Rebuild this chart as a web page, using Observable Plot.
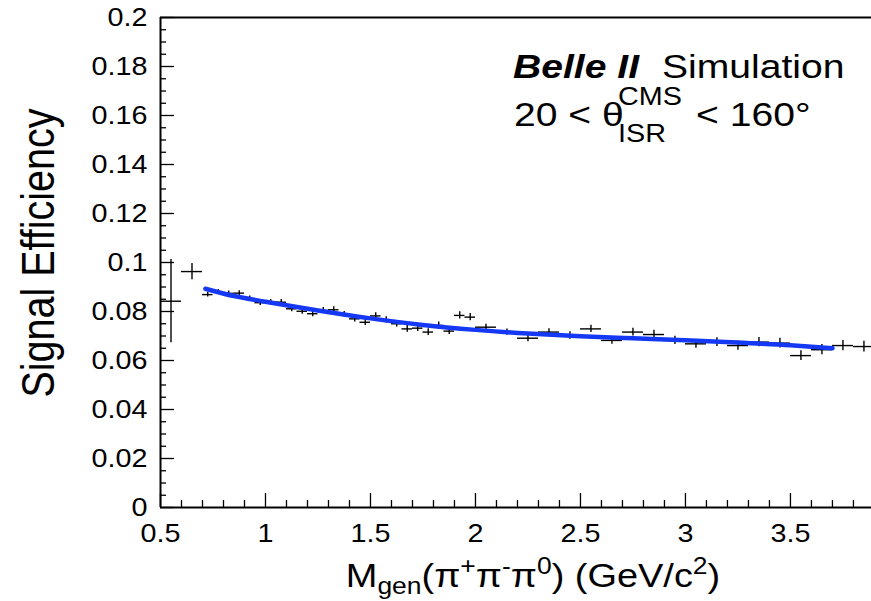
<!DOCTYPE html>
<html>
<head>
<meta charset="utf-8">
<script src="https://cdn.jsdelivr.net/npm/d3@7"></script>
<script src="https://cdn.jsdelivr.net/npm/@observablehq/plot@0.6"></script>
<style>
html, body { margin: 0; padding: 0; background: #fff; overflow: hidden; }
#chart svg { display: block; }
</style>
</head>
<body>
<div id="chart"></div>
<script>
// ---- data ----
const massCenter = [0.55, 0.65, 0.725, 0.775, 0.825, 0.875, 0.925, 0.975, 1.025, 1.075, 1.125, 1.175, 1.225, 1.275, 1.325, 1.375, 1.425, 1.475, 1.525, 1.575, 1.625, 1.675, 1.725, 1.775, 1.825, 1.875, 1.925, 1.975, 2.05, 2.15, 2.25, 2.35, 2.45, 2.55, 2.65, 2.75, 2.85, 2.95, 3.05, 3.15, 3.25, 3.35, 3.45, 3.55, 3.65, 3.75, 3.85];
const massHalfWidth = [0.05, 0.05, 0.025, 0.025, 0.025, 0.025, 0.025, 0.025, 0.025, 0.025, 0.025, 0.025, 0.025, 0.025, 0.025, 0.025, 0.025, 0.025, 0.025, 0.025, 0.025, 0.025, 0.025, 0.025, 0.025, 0.025, 0.025, 0.025, 0.05, 0.05, 0.05, 0.05, 0.05, 0.05, 0.05, 0.05, 0.05, 0.05, 0.05, 0.05, 0.05, 0.05, 0.05, 0.05, 0.05, 0.05, 0.05];
const efficiency = [0.0842, 0.0963, 0.0869, 0.0880, 0.0874, 0.0875, 0.0852, 0.0836, 0.0838, 0.0838, 0.0811, 0.0801, 0.0791, 0.0804, 0.0807, 0.0788, 0.0770, 0.0756, 0.0782, 0.0766, 0.0750, 0.0729, 0.0732, 0.0716, 0.0743, 0.0720, 0.0784, 0.0777, 0.0736, 0.0716, 0.0691, 0.0716, 0.0702, 0.0729, 0.0682, 0.0716, 0.0706, 0.0682, 0.0668, 0.0675, 0.0661, 0.0675, 0.0671, 0.0620, 0.0644, 0.0661, 0.0657];
const efficiencyError = [0.0170, 0.0033, 0.0010, 0.0010, 0.0010, 0.0010, 0.0011, 0.0011, 0.0011, 0.0011, 0.0012, 0.0012, 0.0012, 0.0012, 0.0012, 0.0012, 0.0013, 0.0013, 0.0013, 0.0013, 0.0013, 0.0014, 0.0014, 0.0014, 0.0014, 0.0014, 0.0015, 0.0015, 0.0012, 0.0013, 0.0014, 0.0014, 0.0015, 0.0015, 0.0016, 0.0016, 0.0017, 0.0017, 0.0018, 0.0018, 0.0019, 0.0019, 0.0020, 0.0020, 0.0021, 0.0021, 0.0022];
const fitMass = [0.714, 0.85, 1.0, 1.25, 1.5, 1.75, 2.0, 2.25, 2.5, 2.75, 3.0, 3.25, 3.5, 3.70];
const fitEfficiency = [0.0893, 0.0863, 0.0840, 0.0804, 0.0772, 0.0745, 0.0725, 0.0710, 0.0699, 0.0691, 0.0683, 0.0673, 0.0662, 0.0650];
const xMajorTicks = [0.5, 1, 1.5, 2, 2.5, 3, 3.5];
const xTickLabels = ["0.5", "1", "1.5", "2", "2.5", "3", "3.5"];
const xMinorTicks = [0.6, 0.7, 0.8, 0.9, 1.1, 1.2, 1.3, 1.4, 1.6, 1.7, 1.8, 1.9, 2.1, 2.2, 2.3, 2.4, 2.6, 2.7, 2.8, 2.9, 3.1, 3.2, 3.3, 3.4, 3.6, 3.7, 3.8];
const yMajorTicks = [0, 0.02, 0.04, 0.06, 0.08, 0.1, 0.12, 0.14, 0.16, 0.18, 0.2];
const yTickLabels = ["0", "0.02", "0.04", "0.06", "0.08", "0.1", "0.12", "0.14", "0.16", "0.18", "0.2"];
const yMinorTicks = [0.005, 0.01, 0.015, 0.025, 0.03, 0.035, 0.045, 0.05, 0.055, 0.065, 0.07, 0.075, 0.085, 0.09, 0.095, 0.105, 0.11, 0.115, 0.125, 0.13, 0.135, 0.145, 0.15, 0.155, 0.165, 0.17, 0.175, 0.185, 0.19, 0.195];
const xDomain = [0.5, 3.886];
const yDomain = [0, 0.2];

// ---- build tables ----
const points = massCenter.map((m, i) => ({
  m, m1: m - massHalfWidth[i], m2: m + massHalfWidth[i],
  e: efficiency[i], e1: efficiency[i] - efficiencyError[i], e2: efficiency[i] + efficiencyError[i]
}));
const fit = fitMass.map((m, i) => ({m, e: fitEfficiency[i]}));

const FONT = "'Liberation Sans', Arial, Helvetica, sans-serif";
const SX = 1.15; // horizontal text stretch seen in the reference

const W = 871, H = 601, ML = 160, MR = 0, MT = 17, MB = 94;
const innerW = W - ML - MR, innerH = H - MT - MB;
const MAJOR = 14, MINOR = 7;

const chart = Plot.plot({
  width: W,
  height: H,
  marginLeft: ML,
  marginRight: MR,
  marginTop: MT,
  marginBottom: MB,
  style: {fontFamily: FONT, background: "#fff", color: "#000"},
  x: {domain: xDomain, axis: null},
  y: {domain: yDomain, axis: null},
  marks: [
    Plot.ruleX(points, {x: "m", y1: "e1", y2: "e2", stroke: "#000", strokeWidth: 1.4, clip: true}),
    Plot.ruleY(points, {y: "e", x1: "m1", x2: "m2", stroke: "#000", strokeWidth: 1.4, clip: true}),
    Plot.line(fit, {x: "m", y: "e", stroke: "#1438f4", strokeWidth: 4.5, curve: "monotone-x"}),
    // inward ticks (ROOT style)
    Plot.tickX(xMinorTicks, {x: d => d, insetTop: innerH - MINOR, stroke: "#000", strokeWidth: 1.3}),
    Plot.tickX(xMajorTicks, {x: d => d, insetTop: innerH - MAJOR, stroke: "#000", strokeWidth: 1.3}),
    Plot.tickY(yMinorTicks, {y: d => d, insetRight: innerW - MINOR + 1, stroke: "#000", strokeWidth: 1.3}),
    Plot.tickY(yMajorTicks, {y: d => d, insetRight: innerW - MAJOR, stroke: "#000", strokeWidth: 1.3}),
    // tick labels
    Plot.axisX(xMajorTicks, {tickSize: 0, tickPadding: 17, fontSize: 25, label: null,
      tickFormat: d => xTickLabels[xMajorTicks.indexOf(d)]}),
    Plot.axisY(yMajorTicks, {tickSize: 0, tickPadding: 13, fontSize: 25, label: null,
      tickFormat: d => yTickLabels[yMajorTicks.indexOf(d)]}),
    // frame: left, bottom, top
    Plot.ruleX([xDomain[0]], {stroke: "#000", strokeWidth: 2}),
    Plot.ruleY([yDomain[0], yDomain[1]], {stroke: "#000", strokeWidth: 2})
  ]
});
document.getElementById("chart").appendChild(chart);

const svg = d3.select(chart);
// stretch tick labels horizontally to match the reference
svg.selectAll("g[aria-label$='tick label'] text").each(function() {
  const t = this.getAttribute("transform");
  if (t) this.setAttribute("transform", t + ` scale(${SX},1)`);
});

// helper for rich text
function richText(x, y, segs, opts = {}) {
  const t = svg.append("text")
    .attr("transform", `translate(${x},${y}) scale(${SX},1)`)
    .attr("font-family", FONT)
    .attr("fill", "#000")
    .attr("text-anchor", opts.anchor || "start");
  let shift = 0;
  for (const s of segs) {
    const sp = t.append("tspan").text(s.t).attr("font-size", s.size);
    const target = s.shift || 0;
    sp.attr("dy", target - shift);
    shift = target;
    if (s.weight) sp.attr("font-weight", s.weight);
    if (s.italic) sp.attr("font-style", "italic");
  }
  return t;
}

// y axis title
svg.append("text")
  .attr("transform", `translate(54,253) scale(${SX},1) rotate(-90)`)
  .attr("font-family", FONT)
  .attr("font-size", 39.5)
  .attr("text-anchor", "middle")
  .attr("fill", "#000")
  .text("Signal Efficiency");

// x axis title
const big = 33, small = 23;
richText(533, 587, [
  {t: "M", size: big},
  {t: "gen", size: small, shift: 7},
  {t: "(π", size: big},
  {t: "+", size: small, shift: -13},
  {t: "π", size: big},
  {t: "-", size: small, shift: -13},
  {t: "π", size: big},
  {t: "0", size: small, shift: -13},
  {t: ") (GeV/c", size: big},
  {t: "2", size: small, shift: -13},
  {t: ")", size: big}
], {anchor: "middle"});

// annotation
richText(513, 78, [{t: "Belle II", size: 34, weight: "bold", italic: true}]);
richText(662, 78, [{t: "Simulation", size: 34}]);
richText(514, 126, [{t: "20 < θ", size: 34}]);
richText(618, 105, [{t: "CMS", size: 25}]);
richText(618, 142, [{t: "ISR", size: 25}]);
richText(696, 126, [{t: "< 160°", size: 34}]);
</script>
</body>
</html>
